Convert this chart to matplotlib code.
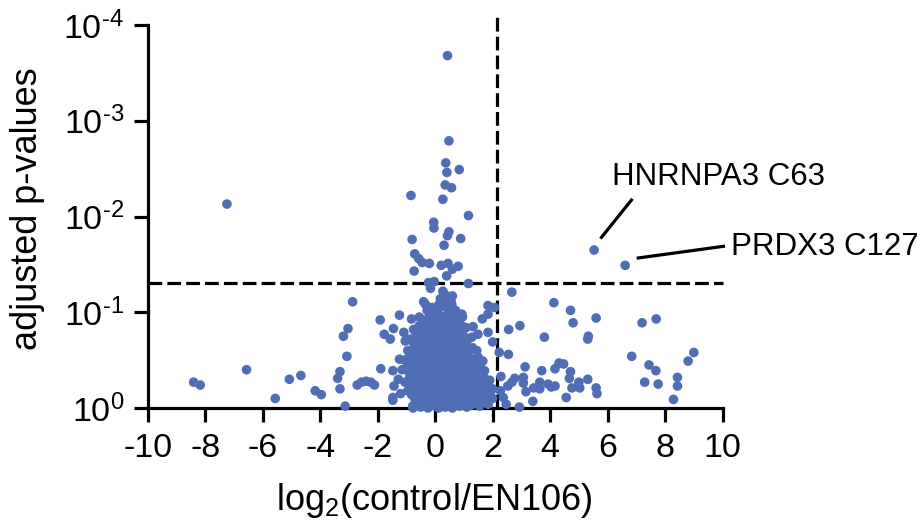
import numpy as np
import matplotlib
matplotlib.use("Agg")
import matplotlib.pyplot as plt
import matplotlib.transforms as mtrans

plt.rcParams['font.family'] = 'Liberation Sans'
plt.rcParams['mathtext.fontset'] = 'custom'
plt.rcParams['mathtext.rm'] = 'Liberation Sans'
plt.rcParams['mathtext.it'] = 'Liberation Sans:italic'
plt.rcParams['mathtext.bf'] = 'Liberation Sans:bold'
plt.rcParams['mathtext.default'] = 'regular'
plt.rcParams['axes.unicode_minus'] = False

# log2 fold change and -log10(adjusted p)
# significant / upper points
up_x = [0.43, 0.48, 0.37, 0.84, 0.41, 0.35, 0.57, -0.84, 0.27, -7.24, 1.16, -0.05, -0.04,
        0.48, 0.43, -0.80, 0.89, 0.31, -0.71, -0.57, -0.45, -0.20, 0.21, 0.45, 0.60, 0.80,
        -0.73, 0.40, -0.23, -0.03, 1.16]
up_v = [3.68, 2.79, 2.56, 2.49, 2.46, 2.33, 2.30, 2.22, 2.18, 2.13, 2.01, 1.94, 1.88,
        1.84, 1.80, 1.76, 1.77, 1.70, 1.61, 1.56, 1.52, 1.51, 1.49, 1.51, 1.45, 1.48,
        1.43, 1.38, 1.31, 1.32, 1.30]

# scattered points outside the main cluster
out_x = [-0.16, 0.27, 0.36, 0.60, 2.67, -2.87, 4.13, -0.40, -0.33, 0.13, 0.40, 0.71, 1.84,
         2.07, 4.71, 4.80, 5.60, 7.20, 7.69, 0.93, -1.24, -1.91, 2.95, 2.56, -3.03, -3.19,
         -1.77, -1.56, -1.45, -1.09, -1.04, -0.69, 3.80, 5.31, 5.33, 1.49, 1.84, 1.32, 1.64,
         1.84, 2.00, 2.23, 2.55, -3.07, 6.84, 9.00, 8.80, 7.44, 7.68, -6.56, -8.40, -8.17,
         -5.07, -4.67, -5.56, -4.17, -3.96, -3.39, -3.31, -3.31, -3.13, -2.71, -2.56, -2.40,
         -2.24, -2.11, -1.89, -1.47, -1.47, -1.47, -1.43, -1.24, -0.93, 3.13, 3.71, 4.17,
         4.31, 4.47, 4.71, 4.67, 4.76, 5.00, 5.03, 5.31, 5.60, 5.63, 4.56, 3.40, 3.16, 3.43,
         3.64, 3.64, 3.93, 4.04, 4.17, 3.07, 3.07, 2.77, 2.67, 2.53, 2.29, 2.27, 2.37, 2.47,
         2.93, 7.29, 7.76, 8.43, 8.43, 8.29, -0.77]
out_v = [1.25, 1.22, 1.18, 1.17, 1.21, 1.11, 1.10, 1.11, 1.08, 1.08, 1.07, 1.02, 1.07,
         1.05, 1.02, 0.89, 0.94, 0.89, 0.93, 0.98, 0.97, 0.92, 0.86, 0.82, 0.83, 0.75,
         0.77, 0.72, 0.83, 0.79, 0.70, 0.65, 0.74, 0.72, 0.75, 0.77, 0.79, 0.85, 0.93,
         0.98, 0.69, 0.58, 0.56, 0.54, 0.54, 0.58, 0.49, 0.45, 0.39, 0.40, 0.27, 0.24,
         0.30, 0.34, 0.10, 0.18, 0.14, 0.31, 0.38, 0.20, 0.02, 0.24, 0.27, 0.28,
         0.27, 0.24, 0.41, 0.39, 0.11, 0.08, 0.23, 0.51, 0.52, 0.43, 0.39, 0.41,
         0.47, 0.46, 0.38, 0.31, 0.21, 0.27, 0.21, 0.30, 0.21, 0.15, 0.11, 0.07, 0.17, 0.21,
         0.27, 0.20, 0.25, 0.22, 0.23, 0.32, 0.26, 0.31, 0.27, 0.23, 0.33, 0.18, 0.11, 0.04,
         0.01, 0.27, 0.25, 0.32, 0.23, 0.09, 0.00]

# main cluster around zero
core_x = [-0.78, -0.62, -0.50, -0.38, -0.25, -0.12, 0.00, 0.12, 0.22, 0.35, 0.48, 0.60, 0.72,
          0.85, 0.98, 1.10, 1.25, 1.40, 1.55, 1.70, 1.85, 2.00,
          -0.70, -0.55, -0.42, -0.30, -0.18, -0.05, 0.08, 0.18, 0.30, 0.42, 0.55, 0.68, 0.80,
          0.92, 1.05, 1.18, 1.32, 1.48, 1.62, 1.78, 1.92,
          -1.20, -0.95, -0.82, -0.65, -0.52, -0.40, -0.28, -0.15, -0.02, 0.10, 0.20, 0.32,
          0.45, 0.58, 0.70, 0.82, 0.95, 1.08, 1.20, 1.35, 1.50, 1.65, 1.82, 2.00,
          -1.28, -1.05, -0.88, -0.72, -0.58, -0.45, -0.33, -0.20, -0.08, 0.05, 0.15, 0.27,
          0.38, 0.50, 0.62, 0.75, 0.88, 1.00, 1.12, 1.25, 1.40, 1.56, 1.72, 1.90,
          -1.15, -0.90, -0.75, -0.60, -0.48, -0.35, -0.22, -0.10, 0.02, 0.12, 0.25, 0.36,
          0.47, 0.60, 0.72, 0.85, 0.96, 1.10, 1.22, 1.38, 1.55, 1.72,
          -1.05, -0.82, -0.65, -0.50, -0.38, -0.25, -0.12, 0.00, 0.10, 0.22, 0.33, 0.45,
          0.57, 0.68, 0.80, 0.92, 1.05, 1.18, 1.32, 1.50, 1.66,
          -0.95, -0.72, -0.55, -0.40, -0.27, -0.15, -0.02, 0.10, 0.20, 0.32, 0.43, 0.55,
          0.66, 0.78, 0.90, 1.02, 1.15, 1.30, 1.45,
          -0.88, -0.66, -0.48, -0.34, -0.20, -0.08, 0.05, 0.15, 0.27, 0.38, 0.50, 0.62,
          0.73, 0.86, 0.98, 1.12, 1.28,
          -0.75, -0.55, -0.40, -0.25, -0.12, 0.02, 0.14, 0.26, 0.40, 0.52, 0.65, 0.78,
          0.92, 1.08,
          -0.82, -0.55, -0.32, -0.18, -0.02, 0.12, 0.25, 0.38, 0.52, 0.66, 0.80, 0.95,
          -0.28, -0.10, 0.08, 0.22, 0.45, 0.58, 0.32,
          0.18, 0.42, 0.55]
core_v = [0.02, 0.05, 0.01, 0.03, 0.00, 0.04, 0.02, 0.00, 0.05, 0.01, 0.03, 0.00, 0.04,
          0.02, 0.05, 0.01, 0.03, 0.06, 0.02, 0.08, 0.04, 0.10,
          0.09, 0.12, 0.08, 0.11, 0.07, 0.10, 0.08, 0.12, 0.09, 0.11, 0.07, 0.10, 0.12,
          0.08, 0.11, 0.09, 0.13, 0.10, 0.14, 0.12, 0.16,
          0.15, 0.18, 0.14, 0.20, 0.16, 0.22, 0.17, 0.21, 0.15, 0.19, 0.23, 0.16,
          0.20, 0.15, 0.22, 0.18, 0.21, 0.16, 0.20, 0.18, 0.22, 0.19, 0.23, 0.20,
          0.30, 0.27, 0.32, 0.26, 0.30, 0.27, 0.33, 0.28, 0.32, 0.26, 0.31, 0.28,
          0.34, 0.27, 0.32, 0.28, 0.33, 0.27, 0.31, 0.29, 0.33, 0.27, 0.31, 0.29,
          0.40, 0.37, 0.43, 0.38, 0.44, 0.39, 0.42, 0.37, 0.43, 0.39, 0.45, 0.38,
          0.42, 0.37, 0.44, 0.40, 0.45, 0.38, 0.43, 0.40, 0.44, 0.39,
          0.50, 0.53, 0.48, 0.55, 0.50, 0.54, 0.49, 0.55, 0.50, 0.56, 0.49, 0.53,
          0.48, 0.55, 0.51, 0.56, 0.49, 0.54, 0.50, 0.53, 0.49,
          0.60, 0.63, 0.59, 0.65, 0.61, 0.66, 0.60, 0.64, 0.59, 0.67, 0.61, 0.65,
          0.60, 0.66, 0.61, 0.64, 0.59, 0.63, 0.60,
          0.72, 0.75, 0.70, 0.77, 0.72, 0.76, 0.70, 0.74, 0.78, 0.71, 0.75, 0.70,
          0.77, 0.72, 0.76, 0.71, 0.74,
          0.82, 0.86, 0.81, 0.88, 0.83, 0.87, 0.81, 0.85, 0.89, 0.82, 0.87, 0.83,
          0.86, 0.84,
          0.93, 0.95, 0.92, 0.97, 0.93, 0.98, 0.92, 0.96, 0.93, 0.97, 0.92, 0.95,
          1.02, 1.05, 1.01, 1.06, 1.03, 1.08, 1.10,
          1.14, 1.16, 1.12]

# more points packed inside the cluster
fill_x = [-0.45, -0.20, 0.05, 0.28, 0.52, 0.78, 1.02,
          -0.60, -0.35, -0.10, 0.15, 0.38, 0.62, 0.88, 1.12, 1.40,
          -0.90, -0.62, -0.38, -0.14, 0.10, 0.33, 0.56, 0.80, 1.05, 1.30, 1.65,
          -0.80, -0.52, -0.28, -0.02, 0.20, 0.44, 0.68, 0.92, 1.18, 1.45,
          -0.95, -0.70, -0.42, -0.18, 0.06, 0.30, 0.52, 0.76, 1.00, 1.25,
          -0.85, -0.60, -0.32, -0.06, 0.16, 0.40, 0.62, 0.86, 1.10,
          -0.75, -0.55, -0.30, -0.02, 0.22, 0.45, 0.68, 0.92,
          -0.62, -0.30, -0.05, 0.20, 0.46, 0.70, 0.88]
fill_v = [0.06, 0.04, 0.07, 0.05, 0.06, 0.07, 0.05,
          0.17, 0.15, 0.18, 0.16, 0.17, 0.14, 0.17, 0.15, 0.16,
          0.24, 0.25, 0.23, 0.25, 0.24, 0.23, 0.25, 0.24, 0.23, 0.25, 0.24,
          0.35, 0.36, 0.35, 0.34, 0.36, 0.35, 0.36, 0.35, 0.34, 0.36,
          0.46, 0.47, 0.46, 0.47, 0.46, 0.47, 0.46, 0.47, 0.46, 0.47,
          0.57, 0.58, 0.57, 0.58, 0.57, 0.58, 0.57, 0.58, 0.57,
          0.68, 0.67, 0.68, 0.69, 0.68, 0.67, 0.68, 0.69,
          0.79, 0.80, 0.79, 0.80, 0.79, 0.80, 0.79]

# labelled hits
hit_names = ['HNRNPA3 C63', 'PRDX3 C127']
hit_x = [5.53, 6.61]
hit_v = [1.65, 1.49]

x_cut = 2.14      # log2 fold change cut-off
p_cut = 0.05      # adjusted p cut-off

fc = np.array(up_x + out_x + core_x + fill_x + hit_x)
p = 10.0 ** -np.array(up_v + out_v + core_v + fill_v + hit_v)
hit_p = 10.0 ** -np.array(hit_v)

dot = '#4F6EB5'
lw = 2.3

fig = plt.figure(figsize=(9.17, 5.26), dpi=100)
ax = fig.add_axes([0.161, 0.2243, 0.627, 0.7282])

ax.scatter(fc, p, s=48, color=dot, edgecolors='none', clip_on=False, zorder=3)

ax.set_yscale('log')
ax.set_ylim(1, 1e-4)
ax.set_xlim(-10, 10)
ax.set_xticks(np.arange(-10, 11, 2))
ax.set_yticks([1, 1e-1, 1e-2, 1e-3, 1e-4])
ax.set_yticklabels([r'$10^{0}$', r'$10^{\text{-}1}$', r'$10^{\text{-}2}$',
                    r'$10^{\text{-}3}$', r'$10^{\text{-}4}$'])
ax.yaxis.set_minor_locator(matplotlib.ticker.NullLocator())

for s in ['top', 'right']:
    ax.spines[s].set_visible(False)
for s in ['left', 'bottom']:
    ax.spines[s].set_linewidth(lw)
ax.tick_params(axis='both', width=lw, length=10, labelsize=24.5, color='black')
ax.tick_params(axis='x', pad=8)
ax.tick_params(axis='y', pad=7)

dash = (0, (4.3, 1.6))
ax.plot([x_cut, x_cut], [1, 10 ** -4.1], color='black', lw=lw, linestyle=dash,
        clip_on=False, zorder=2)
ax.plot([-10, 10], [p_cut, p_cut], color='black', lw=lw, linestyle=dash,
        clip_on=False, zorder=2)

# callout lines and labels, offsets in points from each hit
line_offsets = [((5.3, 9.1), (26.9, 36.0)), ((9.4, 5.3), (70.8, 13.7))]
text_offsets = [(13.2, 52.9), (76.1, 13.2)]
for name, hx, hp, (a, b), toff in zip(hit_names, hit_x, hit_p, line_offsets, text_offsets):
    tr = fig.dpi_scale_trans + mtrans.ScaledTranslation(hx, hp, ax.transData)
    ax.plot([a[0] / 72, b[0] / 72], [a[1] / 72, b[1] / 72], color='black', lw=lw,
            transform=tr, clip_on=False)
    ax.annotate(name, xy=(hx, hp), xytext=toff, textcoords='offset points',
                ha='left', va='center', fontsize=22.5, annotation_clip=False)

ax.set_xlabel('log$_2$(control/EN106)', fontsize=26)
ax.set_ylabel('adjusted p-values', fontsize=26)
ax.xaxis.set_label_coords(0.498, -0.19)
ax.yaxis.set_label_coords(-0.178, 0.52)

fig.savefig('out.png', dpi=100)
